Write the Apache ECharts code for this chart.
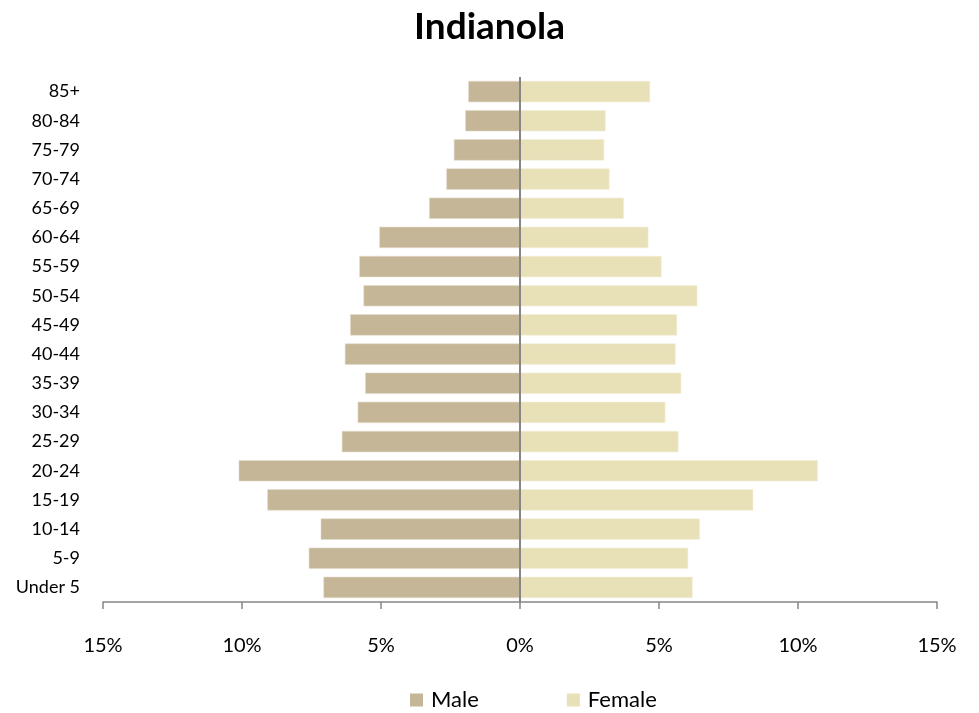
<!DOCTYPE html>
<html>
<head>
<meta charset="utf-8">
<script src="https://cdn.jsdelivr.net/npm/echarts@6/dist/echarts.min.js"></script>
<style>html,body{margin:0;padding:0;background:#fff}#c{width:979px;height:713px}</style>
</head>
<body>
<div id="c"></div>
<script>
const categories = ['Under 5','5-9','10-14','15-19','20-24','25-29','30-34','35-39','40-44','45-49','50-54','55-59','60-64','65-69','70-74','75-79','80-84','85+'];
const male = [7.07,7.60,7.17,9.09,10.12,6.41,5.84,5.57,6.30,6.11,5.63,5.78,5.06,3.27,2.65,2.38,1.97,1.86];
const female = [6.21,6.05,6.47,8.39,10.71,5.70,5.23,5.80,5.60,5.65,6.38,5.09,4.62,3.74,3.22,3.03,3.08,4.68];
const xTicks = [-15,-10,-5,0,5,10,15];

const FONT = 'Lato, "Liberation Sans", sans-serif';
const chart = echarts.init(document.getElementById('c'));
chart.setOption({
  animation: false,
  title: {
    text: 'Indianola', left: 'center', top: 4,
    textStyle: {fontFamily: FONT, fontSize: 37, fontWeight: 'bold', color: '#000'}
  },
  legend: {
    top: 684, left: 405, itemWidth: 13, itemHeight: 13, itemGap: 88, icon: 'rect',
    itemStyle: {borderWidth: 0},
    textStyle: {fontFamily: FONT, fontSize: 22, color: '#000', padding: [0, 0, 0, 3]},
    data: ['Male','Female']
  },
  grid: {left: 103, right: 42, top: 77, bottom: 111},
  xAxis: {
    type: 'value', min: xTicks[0], max: xTicks[xTicks.length-1], interval: 5,
    axisLine: {show: true, onZero: false, lineStyle: {color: '#868686', width: 1.5}},
    axisTick: {show: true, length: 7, lineStyle: {color: '#868686', width: 1.5}},
    splitLine: {show: false},
    axisLabel: {margin: 34, fontFamily: FONT, fontSize: 20, color: '#000',
      formatter: v => Math.abs(v) + '%'}
  },
  yAxis: {
    type: 'category', data: categories,
    axisLine: {show: false}, axisTick: {show: false},
    axisLabel: {margin: 23, fontFamily: FONT, fontSize: 18, color: '#000'}
  },
  series: [
    {
      name: 'Male', type: 'bar', barGap: '-100%', barCategoryGap: '27%',
      data: male.map(v => -v),
      itemStyle: {color: '#C4B696', borderColor: '#E4DCCB', borderWidth: 0.6},
      markLine: {
        silent: true, symbol: 'none', label: {show: false},
        lineStyle: {color: '#868686', type: 'solid', width: 2},
        data: [{xAxis: 0}]
      }
    },
    {
      name: 'Female', type: 'bar', barCategoryGap: '27%',
      data: female,
      itemStyle: {color: '#E8E1B8', borderColor: '#F3EFD8', borderWidth: 0.6}
    }
  ]
});
</script>
</body>
</html>
